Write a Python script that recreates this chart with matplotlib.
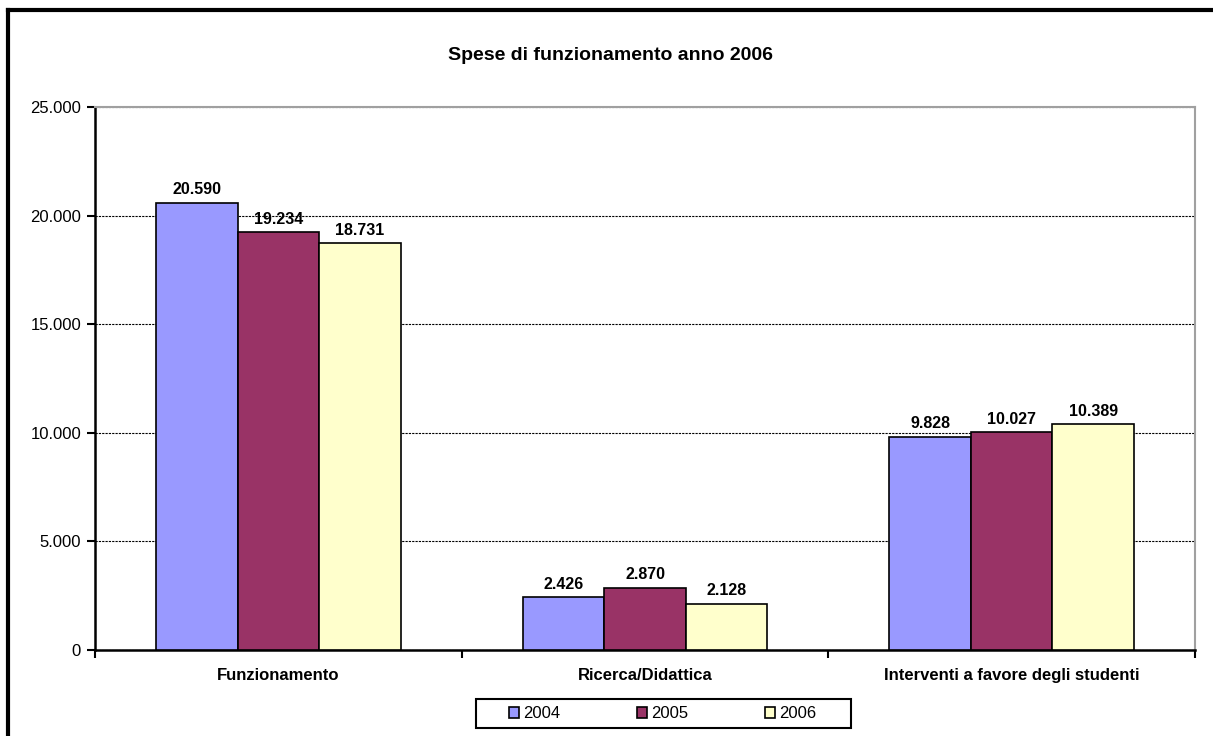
import matplotlib.pyplot as plt
from matplotlib.lines import Line2D
from matplotlib.patches import Rectangle
from matplotlib.ticker import FuncFormatter, FixedLocator
import numpy as np

plt.rcParams['font.family'] = ['Liberation Sans', 'DejaVu Sans']

categories = ['Funzionamento', 'Ricerca/Didattica', 'Interventi a favore degli studenti']
years = ['2004', '2005', '2006']
v2004 = [20590, 2426, 9828]
v2005 = [19234, 2870, 10027]
v2006 = [18731, 2128, 10389]
colors = ['#9999FF', '#993366', '#FFFFCC']

fig = plt.figure(figsize=(12.13, 7.36), dpi=100)
ax = fig.add_axes([95 / 1213, 1 - 650 / 736, 1100 / 1213, 543 / 736])

x = np.arange(len(categories))
w = 1 / 4.5
for i, (vals, c, yr) in enumerate(zip([v2004, v2005, v2006], colors, years)):
    pos = x + (i - 1) * w
    ax.bar(pos, vals, width=w, color=c, edgecolor='black', linewidth=1.2, label=yr, zorder=3)
    for p, v in zip(pos, vals):
        ax.annotate(f"{v:,}".replace(',', '.'), (p, v), xytext=(0, 4), textcoords='offset points',
                    ha='center', va='bottom', fontsize=11.5, fontweight='bold', zorder=4)

ax.set_xlim(-0.5, len(categories) - 0.5)
ax.set_ylim(0, 25000)
ax.set_yticks(range(0, 25001, 5000))
ax.yaxis.set_major_formatter(FuncFormatter(lambda v, p: f"{int(v):,}".replace(',', '.')))
ax.yaxis.grid(True, color='black', linestyle=(0, (2, 1)), linewidth=0.8, zorder=1)
ax.set_axisbelow(True)

# category boundary ticks, labels between them
ax.xaxis.set_major_locator(FixedLocator([-0.5, 0.5, 1.5, 2.5]))
ax.set_xticklabels([])
ax.xaxis.set_minor_locator(FixedLocator(x))
ax.set_xticklabels(categories, minor=True, fontsize=12, fontweight='bold')
ax.tick_params(axis='x', which='minor', length=0, pad=13)
ax.tick_params(axis='x', which='major', length=6, width=1.5, direction='out')
ax.tick_params(axis='y', length=6, width=1.5, direction='out', labelsize=12, pad=4)

ax.spines['left'].set_linewidth(1.8)
ax.spines['bottom'].set_linewidth(1.8)
ax.spines['top'].set_color('#A0A0A0')
ax.spines['right'].set_color('#A0A0A0')
ax.spines['top'].set_linewidth(1.5)
ax.spines['right'].set_linewidth(1.5)

fig.text(610 / 1213, 1 - 55 / 736, 'Spese di funzionamento anno 2006', ha='center', va='center',
         fontsize=14, fontweight='bold')

# legend without its own frame, box drawn separately to get the wide padding
leg = ax.legend(loc='center', bbox_to_anchor=(663 / 1213, 1 - 714 / 736), bbox_transform=fig.transFigure,
                ncol=3, frameon=False, fontsize=12,
                handlelength=0.6, handleheight=0.6, handletextpad=0.25, columnspacing=4.6,
                borderpad=0.3)
fig.add_artist(Rectangle((476 / 1213, 1 - 728 / 736), 375 / 1213, 29 / 736, transform=fig.transFigure,
                         fill=False, edgecolor='black', linewidth=1.5))

# outer frame (top and left visible)
fig.add_artist(Line2D([8 / 1213, 8 / 1213], [0, 1 - 10 / 736], transform=fig.transFigure, color='black', linewidth=3))
fig.add_artist(Line2D([8 / 1213, 1], [1 - 10 / 736, 1 - 10 / 736], transform=fig.transFigure, color='black', linewidth=3))

fig.savefig('out.png', dpi=100)
